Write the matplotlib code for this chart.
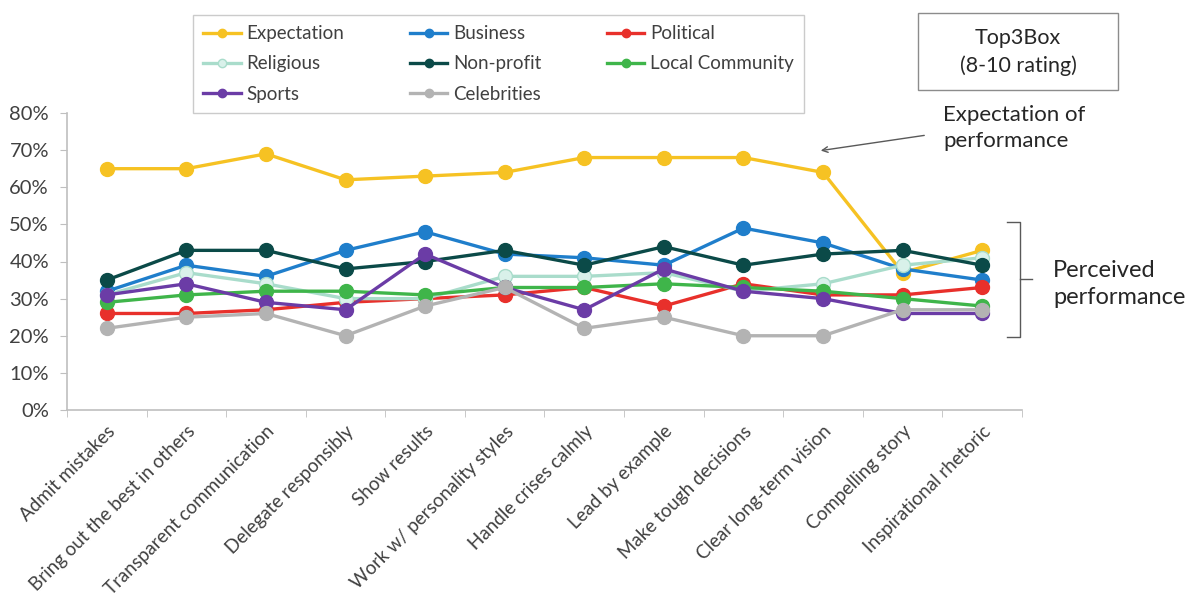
import matplotlib
matplotlib.use("Agg")
import matplotlib.pyplot as plt
from matplotlib.lines import Line2D
from matplotlib.patches import Rectangle
from matplotlib.ticker import PercentFormatter, FixedLocator

plt.rcParams['font.family'] = ['Lato', 'DejaVu Sans']

categories = [
    "Admit mistakes", "Bring out the best in others", "Transparent communication",
    "Delegate responsibly", "Show results", "Work w/ personality styles",
    "Handle crises calmly", "Lead by example", "Make tough decisions",
    "Clear long-term vision", "Compelling story", "Inspirational rhetoric",
]

# Top3Box share (%) per leadership attribute
expectation = [65, 65, 69, 62, 63, 64, 68, 68, 68, 64, 37, 43]
business = [32, 39, 36, 43, 48, 42, 41, 39, 49, 45, 38, 35]
political = [26, 26, 27, 29, 30, 31, 33, 28, 34, 31, 31, 33]
religious = [31, 37, 34, 30, 30, 36, 36, 37, 32, 34, 39, 41]
nonprofit = [35, 43, 43, 38, 40, 43, 39, 44, 39, 42, 43, 39]
local_community = [29, 31, 32, 32, 31, 33, 33, 34, 33, 32, 30, 28]
sports = [31, 34, 29, 27, 42, 33, 27, 38, 32, 30, 26, 26]
celebrities = [22, 25, 26, 20, 28, 33, 22, 25, 20, 20, 27, 27]

series = [
    ("Expectation", expectation, "#F6C223", "#F6C223"),
    ("Business", business, "#1F7ECB", "#1F7ECB"),
    ("Political", political, "#E8302B", "#E8302B"),
    ("Religious", religious, "#A9DCCB", "#D9F1EA"),
    ("Non-profit", nonprofit, "#0B4A48", "#0B4A48"),
    ("Local Community", local_community, "#3FB54A", "#3FB54A"),
    ("Sports", sports, "#6B3CA6", "#6B3CA6"),
    ("Celebrities", celebrities, "#B3B3B3", "#B3B3B3"),
]

W, H = 1200, 603
fig = plt.figure(figsize=(W / 100, H / 100), dpi=100)
ax = fig.add_axes([67 / W, 1 - 410 / H, (1022 - 67) / W, (410 - 113) / H])

x = list(range(len(categories)))
handles = {}
for name, vals, col, face in series:
    ln, = ax.plot(x, vals, color=col, lw=2.4, marker="o", markersize=10,
                  markerfacecolor=face, markeredgecolor=col, label=name)
    handles[name] = ln

ax.set_xlim(-0.5, len(categories) - 0.5)
ax.set_ylim(0, 80)
ax.set_yticks(range(0, 81, 10))
ax.yaxis.set_major_formatter(PercentFormatter(xmax=100, decimals=0))
ax.set_xticks(x)
ax.set_xticklabels(categories, rotation=45, ha="right", rotation_mode="anchor")
ax.xaxis.set_minor_locator(FixedLocator([i - 0.5 for i in range(len(categories) + 1)]))
ax.tick_params(axis="x", which="major", length=0, pad=9, labelsize=13.5, labelcolor="#404040")
ax.tick_params(axis="x", which="minor", length=5, color="#BFBFBF")
ax.tick_params(axis="y", length=5, color="#BFBFBF", labelsize=14.5, labelcolor="#404040", pad=8)
for s in ["top", "right"]:
    ax.spines[s].set_visible(False)
for s in ["left", "bottom"]:
    ax.spines[s].set_color("#BFBFBF")
    ax.spines[s].set_linewidth(1.2)

# legend: matplotlib fills column by column
order = ["Expectation", "Religious", "Sports", "Business", "Non-profit",
         "Celebrities", "Political", "Local Community"]
leg = fig.legend([handles[n] for n in order], order, ncol=3,
                 loc="upper left", bbox_to_anchor=(193 / W, 1 - 15 / H),
                 borderaxespad=0, frameon=True, fancybox=False, edgecolor="#BFBFBF",
                 fontsize=13.5, handlelength=2.0, handletextpad=0.3,
                 columnspacing=3.5, labelspacing=0.7, markerscale=0.6,
                 borderpad=0.55)
for t in leg.get_texts():
    t.set_color("#404040")

# Top3Box note
fig.add_artist(Rectangle((918 / W, 1 - 90 / H), 200 / W, 77 / H, transform=fig.transFigure,
                         facecolor="white", edgecolor="#8C8C8C", lw=1))
fig.text(1018 / W, 1 - 52 / H, "Top3Box\n(8-10 rating)", ha="center", va="center",
         fontsize=15.5, color="#262626", linespacing=1.4)

fig.text(943 / W, 1 - 128 / H, "Expectation of\nperformance", ha="left", va="center",
         fontsize=16, color="#262626", linespacing=1.35)
ax.annotate("", xy=(818, H - 151), xycoords="figure pixels",
            xytext=(927, H - 135), textcoords="figure pixels",
            arrowprops=dict(arrowstyle="->", color="#595959", lw=1))

fig.text(1053 / W, 1 - 284 / H, "Perceived\nperformance", ha="left", va="center",
         fontsize=17, color="#262626", linespacing=1.35)
bx = [1007, 1020, 1020, 1007]
by = [222, 222, 337, 337]
fig.add_artist(Line2D([v / W for v in bx], [1 - v / H for v in by],
                      transform=fig.transFigure, color="#595959", lw=1))
fig.add_artist(Line2D([1020 / W, 1032 / W], [1 - 279 / H, 1 - 279 / H],
                      transform=fig.transFigure, color="#595959", lw=1))

fig.savefig("out.png", dpi=100, facecolor="white")
